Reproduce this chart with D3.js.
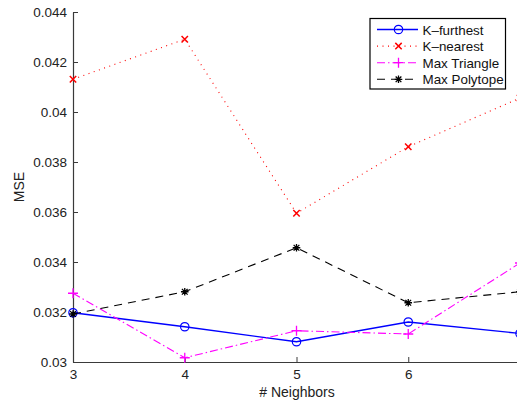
<!DOCTYPE html>
<html>
<head>
<meta charset="utf-8">
<script src="https://cdn.jsdelivr.net/npm/d3@7"></script>
<style>
  html, body { margin: 0; padding: 0; background: #fff; }
  svg { display: block; font-family: "Liberation Sans", Arial, Helvetica, sans-serif; }
</style>
</head>
<body>
<svg id="chart" width="517" height="404"></svg>
<script>
// Neighbour counts on the x axis
const neighbors = [3, 4, 5, 6, 7];

// MSE for each selection strategy
const kFurthest    = [0.03197, 0.03141, 0.03081, 0.03160, 0.03114];
const kNearest     = [0.04131, 0.04291, 0.03595, 0.03861, 0.04056];
const maxTriangle  = [0.03275, 0.03017, 0.03125, 0.03112, 0.03396];
const maxPolytope  = [0.03192, 0.03281, 0.03457, 0.03237, 0.03281];

const xTicks = [3, 4, 5, 6, 7];
const yTicks = [0.030, 0.032, 0.034, 0.036, 0.038, 0.040, 0.042, 0.044];

const series = [
  { name: "K\u2013furthest",  values: kFurthest,   color: "#0000ff", dash: null,        marker: "circle" },
  { name: "K\u2013nearest",   values: kNearest,    color: "#ff0000", dash: "1,4.5",     marker: "x" },
  { name: "Max Triangle",     values: maxTriangle, color: "#ff00ff", dash: "8,3,1.5,3", marker: "plus" },
  { name: "Max Polytope",     values: maxPolytope, color: "#000000", dash: "8,6",       marker: "star" }
];

const svg = d3.select("#chart");
const m = { left: 73, right: 520, top: 12, bottom: 362 };

const x = d3.scaleLinear().domain([3, 7]).range([m.left, m.right]);
const y = d3.scaleLinear().domain([0.030, 0.044]).range([m.bottom, m.top]);

svg.append("defs").append("clipPath").attr("id", "plotclip")
  .append("rect").attr("x", m.left - 8).attr("y", m.top - 8)
  .attr("width", m.right - m.left + 16).attr("height", m.bottom - m.top + 16);

// Axes (ticks point inward)
const axisColor = "#3a3a3a";
const yAxis = svg.append("g").attr("transform", `translate(${m.left},0)`)
  .call(d3.axisLeft(y).tickValues(yTicks).tickSizeInner(-5).tickSizeOuter(0).tickPadding(6)
    .tickFormat(d => String(+d.toFixed(3))));
const xAxis = svg.append("g").attr("transform", `translate(0,${m.bottom})`)
  .call(d3.axisBottom(x).tickValues(xTicks).tickSizeInner(-5).tickSizeOuter(0).tickPadding(7)
    .tickFormat(d => d === 7 ? "" : d));

[yAxis, xAxis].forEach(a => {
  a.select(".domain").attr("stroke", axisColor).attr("stroke-width", 1.2);
  a.selectAll(".tick line").attr("stroke", axisColor);
  a.selectAll(".tick text").attr("fill", "#222").style("font-size", "13.5px")
    .style("font-family", "'Liberation Sans', Arial, sans-serif");
});

// Axis titles
svg.append("text").attr("x", 297).attr("y", 397).attr("text-anchor", "middle")
  .attr("fill", "#222").style("font-size", "14px").text("# Neighbors");
svg.append("text").attr("transform", "translate(24,187) rotate(-90)")
  .attr("text-anchor", "middle").attr("fill", "#222").style("font-size", "14px").text("MSE");

function drawMarker(g, type, cx, cy, color) {
  if (type === "circle") {
    g.append("circle").attr("cx", cx).attr("cy", cy).attr("r", 4.2)
      .attr("fill", "none").attr("stroke", color).attr("stroke-width", 1.2);
  } else if (type === "x") {
    const s = 3.2;
    g.append("path").attr("d", `M${cx - s},${cy - s}L${cx + s},${cy + s}M${cx - s},${cy + s}L${cx + s},${cy - s}`)
      .attr("stroke", color).attr("stroke-width", 1.5);
  } else if (type === "plus") {
    const s = 5;
    g.append("path").attr("d", `M${cx - s},${cy}L${cx + s},${cy}M${cx},${cy - s}L${cx},${cy + s}`)
      .attr("stroke", color).attr("stroke-width", 1.3);
  } else if (type === "star") {
    const s = 3.8, d = s * 0.75;
    g.append("path").attr("d",
      `M${cx - s},${cy}L${cx + s},${cy}M${cx},${cy - s}L${cx},${cy + s}` +
      `M${cx - d},${cy - d}L${cx + d},${cy + d}M${cx - d},${cy + d}L${cx + d},${cy - d}`)
      .attr("stroke", color).attr("stroke-width", 1.3);
  }
}

const line = d3.line().x((d, i) => x(neighbors[i])).y(d => y(d));
const plot = svg.append("g").attr("clip-path", "url(#plotclip)");

series.forEach(s => {
  plot.append("path").datum(s.values).attr("d", line)
    .attr("fill", "none").attr("stroke", s.color).attr("stroke-width", s.dash ? 1.1 : 1.3)
    .attr("stroke-dasharray", s.dash);
  s.values.forEach((v, i) => drawMarker(plot, s.marker, x(neighbors[i]), y(v), s.color));
});

// Legend
const lg = svg.append("g");
lg.append("rect").attr("x", 370).attr("y", 18.5).attr("width", 135.5).attr("height", 70.5)
  .attr("fill", "#fff").attr("stroke", "#000").attr("stroke-width", 1.2);
series.forEach((s, i) => {
  const ly = 29.5 + i * 16.6;
  lg.append("line").attr("x1", 377).attr("x2", 418).attr("y1", ly).attr("y2", ly)
    .attr("stroke", s.color).attr("stroke-width", s.dash ? 1.1 : 1.3)
    .attr("stroke-dasharray", s.dash);
  drawMarker(lg, s.marker, 398.5, ly, s.color);
  lg.append("text").attr("x", 422.5).attr("y", ly + 5).attr("fill", "#111")
    .style("font-size", "13.4px").text(s.name);
});
</script>
</body>
</html>
